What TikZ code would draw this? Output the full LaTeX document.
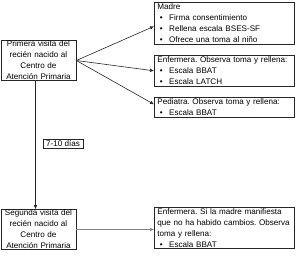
\documentclass[tikz,border=0pt]{standalone}
\usepackage{fontspec}
\setmainfont{Liberation Sans}
\usetikzlibrary{arrows.meta}
\frenchspacing
\newcommand{\bul}[1]{\hspace*{2.5pt}\textbullet\hspace{6.5pt}#1}
\begin{document}
\begin{tikzpicture}[x=1pt,y=-1pt,
  every node/.style={font=\fontsize{8.1}{11}\selectfont},
  visitbox/.style={draw=black!85,line width=0.7pt,align=center,text width=73pt,inner xsep=1pt,inner ysep=0.5pt},
  taskbox/.style={draw=black!85,line width=0.7pt,align=left,text width=134pt,inner xsep=3pt,inner ysep=1.5pt,anchor=north west},
  link/.style={line width=0.6pt,-{Latex[length=4pt,width=3.5pt]}}]
\useasboundingbox (0,0) rectangle (300,255);
\node[visitbox] (visita1) at (38.5,60.5) {Primera visita del\\reci\'en nacido al\\Centro de\\Atenci\'on Primaria};
\node[visitbox] (visita2) at (38.5,229.5) {Segunda visita del\\reci\'en nacido al\\Centro de\\Atenci\'on Primaria};
\node[taskbox] (madre) at (154,2) {Madre\\\bul{Firma consentimiento}\\\bul{Rellena escala BSES-SF}\\\bul{Ofrece una toma al ni\~no}};
\node[taskbox] (enf1) at (154,55) {Enfermera. Observa toma y rellena:\\\bul{Escala BBAT}\\\bul{Escala LATCH}};
\node[taskbox] (ped) at (154,97) {Pediatra. Observa toma y rellena:\\\bul{Escala BBAT}};
\node[taskbox] (enf2) at (154,206.5) {Enfermera. Si la madre manifiesta\\que no ha habido cambios. Observa\\toma y rellena:\\\bul{Escala BBAT}};
\node[draw=black!85,line width=0.7pt,inner xsep=3pt,inner ysep=1.5pt] (dias) at (63,143.5) {7-10 d\'ias};
\draw[link,black!85] (visita1.east) -- ([yshift=-3pt]madre.west);
\draw[link,black!85] (visita1.east) -- (enf1.west);
\draw[link,black!85] (visita1.east) -- ([yshift=3pt]ped.west);
\draw[link,black!85] ([xshift=-3pt]visita1.south) -- ([xshift=-3pt]visita2.north);
\draw[link,black!50] (visita2.east) -- (visita2.east -| enf2.west);
\end{tikzpicture}
\end{document}
